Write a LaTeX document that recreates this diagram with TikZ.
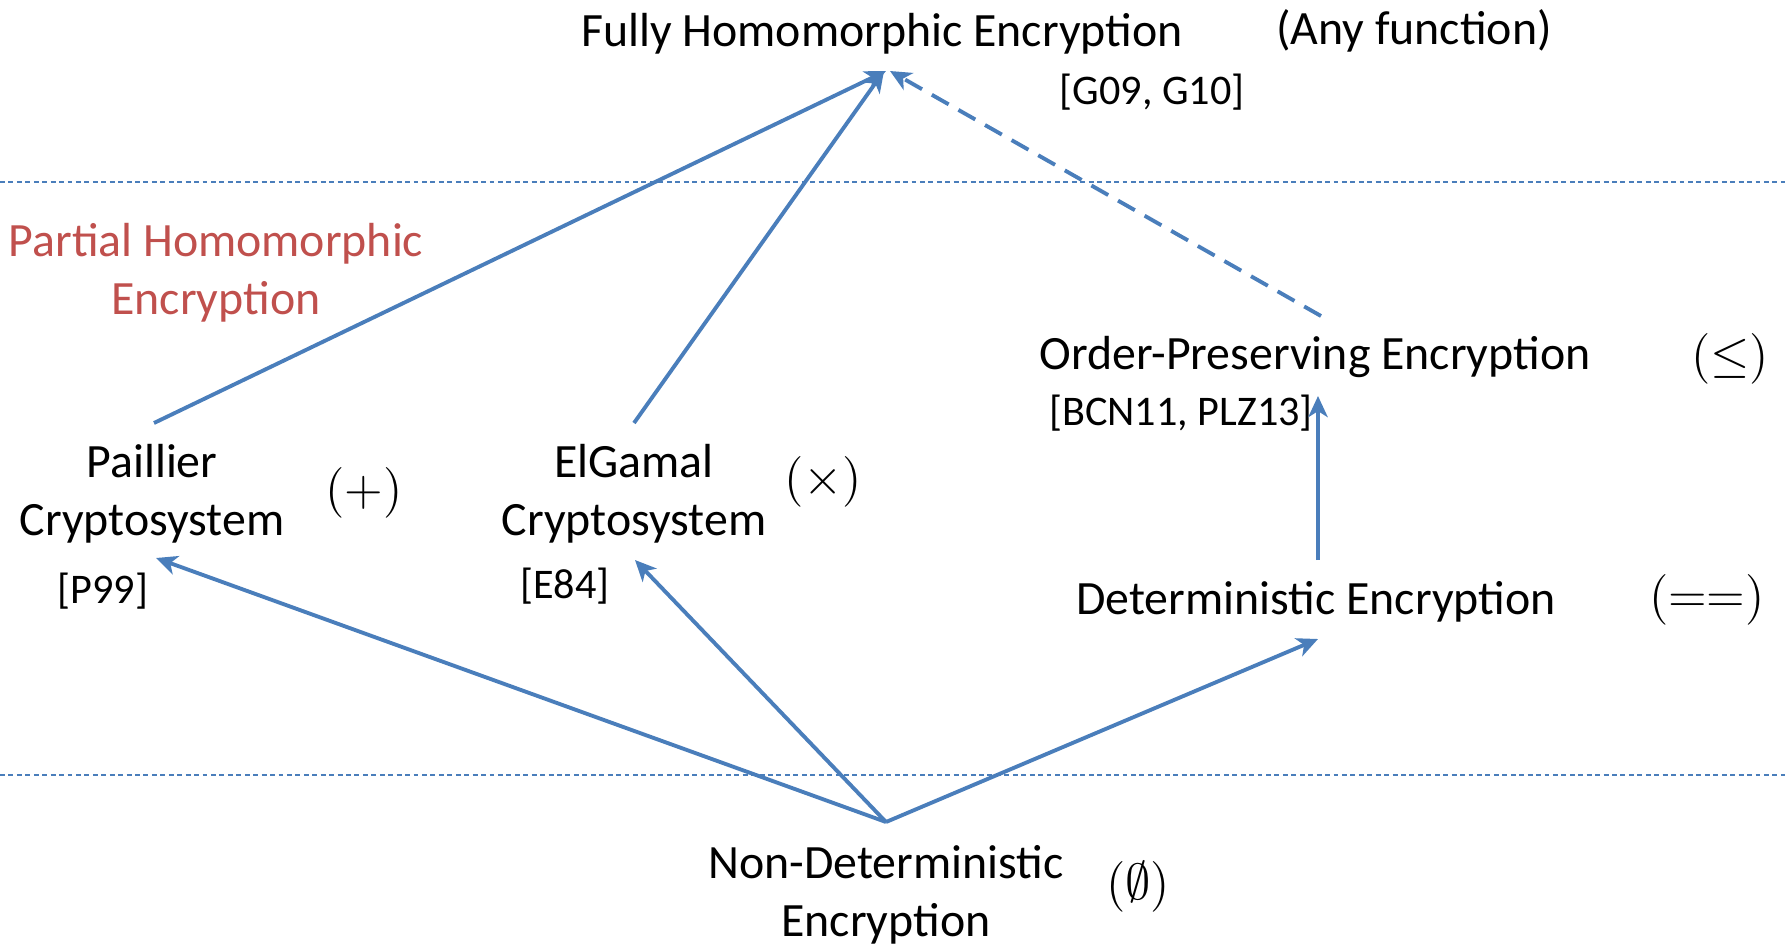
\documentclass[tikz,border=0pt]{standalone}
\usepackage{fontspec}
\setmainfont{Carlito}
\usetikzlibrary{arrows.meta}
\definecolor{lblue}{HTML}{4A7EBB}
\definecolor{lred}{HTML}{C0504D}
\tikzset{
  txt/.style={font=\fontsize{13.6}{16.5}\selectfont, align=center, inner sep=0pt},
  redtxt/.style={txt, text=lred},
  reftxt/.style={font=\fontsize{12}{14}\selectfont, inner sep=0pt},
  sym/.style={font=\fontsize{15.8}{18}\selectfont, inner sep=0pt},
  conn/.style={draw=lblue, line width=1.1pt, -{Stealth[length=6pt,width=5.5pt,inset=1.7pt]}},
  dconn/.style={conn, dash pattern=on 5.5pt off 3.2pt},
  sepline/.style={draw=lblue, line width=0.45pt, dash pattern=on 1.4pt off 1pt},
}
\begin{document}
\begin{tikzpicture}[x=0.01cm, y=-0.01cm]
\useasboundingbox (0,0) rectangle (1785,945);
\draw[sepline] (0,182) -- (1785,182);
\draw[sepline] (0,775) -- (1785,775);

\node[txt] (fhe) at (882,34) {Fully Homomorphic Encryption};
\node[txt] (anyf) at (1414,31) {(Any function)};
\node[reftxt] (g09) at (1152,92) {[G09, G10]};
\node[redtxt] (phe) at (216,273) {Partial Homomorphic\\Encryption};
\node[txt] (pail) at (152,494) {Paillier\\Cryptosystem};
\node[sym] (plus) at (364,493) {$(+)$};
\node[reftxt] (p99) at (103,591) {[P99]};
\node[txt] (elg) at (634,494) {ElGamal\\Cryptosystem};
\node[sym] (times) at (823,482) {$(\times)$};
\node[reftxt] (e84) at (565,586) {[E84]};
\node[txt] (ope) at (1315,357) {Order-Preserving Encryption};
\node[sym] (le) at (1730,359) {$(\le)$};
\node[reftxt] (bcn) at (1181,413) {[BCN11, PLZ13]};
\node[txt] (det) at (1316,602) {Deterministic Encryption};
\node[sym] (eqs) at (1707,600) {$(==)$};
\node[txt] (nondet) at (886,895) {Non-Deterministic\\Encryption};
\node[sym] (empty) at (1138,887) {$(\emptyset)$};

\coordinate (apexA) at (886,71);
\coordinate (apexB) at (884,71);
\coordinate (apexC) at (890,71);
\coordinate (pailT) at (154,423);
\coordinate (pailB) at (156,558);
\coordinate (elgT) at (634,423);
\coordinate (elgB) at (635,560);
\coordinate (opeT) at (1321,316);
\coordinate (opeB) at (1318,396);
\coordinate (detT) at (1318,560);
\coordinate (detB) at (1318,639);
\coordinate (ndT) at (886,822);

\draw[conn] (pailT) -- (apexA);
\draw[conn] (elgT) -- (apexB);
\draw[dconn] (opeT) -- (apexC);
\draw[conn] (ndT) -- (pailB);
\draw[conn] (ndT) -- (elgB);
\draw[conn] (ndT) -- (detB);
\draw[conn] (detT) -- (opeB);
\end{tikzpicture}
\end{document}
